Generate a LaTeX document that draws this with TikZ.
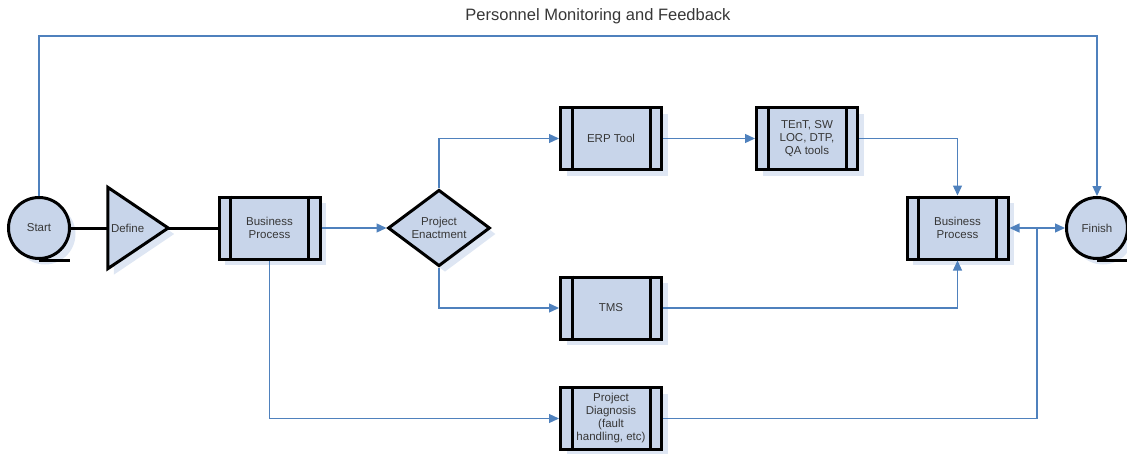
\documentclass[tikz,border=0pt]{standalone}
\usepackage{fontspec}
\setmainfont{Liberation Sans}
\usepackage{tikz}
\usetikzlibrary{shapes.geometric,arrows.meta,shadows}

\definecolor{flowblue}{RGB}{79,129,189}
\definecolor{boxfill}{RGB}{200,213,234}
\definecolor{shadefill}{RGB}{222,230,243}
\definecolor{textgray}{RGB}{55,55,55}

\begin{document}
\begin{tikzpicture}[x=1pt,y=-1pt,
  font=\fontsize{11.5}{13}\selectfont, text=textgray,
  outline/.style={draw=black, line width=3pt, fill=boxfill,
    drop shadow={shadow xshift=6pt, shadow yshift=-6pt, fill=shadefill, opacity=1}},
  procbox/.style={outline, rectangle, minimum width=101pt, minimum height=62pt,
    align=center, inner sep=1pt},
  termnode/.style={outline, circle, minimum size=61pt, inner sep=0pt},
  blackline/.style={draw=black, line width=3pt},
  flow/.style={draw=flowblue, line width=1.3pt, -{Triangle[length=10pt,width=9pt]}},
  flowline/.style={draw=flowblue, line width=1.3pt}]
\useasboundingbox (0,0) rectangle (1127,453);

% title over the feedback loop
\node (title) at (598,16) {\fontsize{16.5}{18}\selectfont Personnel Monitoring and Feedback};

% terminals
\node[termnode] (start) at (39,228) {Start};
\node[termnode] (finish) at (1097,228) {Finish};
\draw[blackline] (start.south) -- ++(31,0);
\draw[blackline] (finish.south) -- ++(31,0);

% define (triangle)
\node[minimum width=60pt, minimum height=81pt, inner sep=0pt] (define) at (138,228) {};
\fill[shadefill] ([shift={(6,6)}]define.north west) -- ([shift={(6,6)}]define.east)
  -- ([shift={(6,6)}]define.south west) -- cycle;
\draw[blackline, fill=boxfill, line join=miter] (define.north west) -- (define.east)
  -- (define.south west) -- cycle;
\node[anchor=west, inner sep=0pt] (definetext) at ([xshift=3pt]define.west) {Define};

% process boxes
\node[procbox] (bpa) at (269.5,228) {Business\\Process};
\node[procbox] (erp) at (611,138.5) {ERP Tool};
\node[procbox] (tent) at (807,138.5) {TEnT, SW\\LOC, DTP,\\QA tools};
\node[procbox] (tms) at (611,308) {TMS};
\node[procbox] (diag) at (611,418.5) {Project\\Diagnosis\\(fault\\handling, etc)};
\node[procbox] (bpb) at (957.5,228) {Business\\Process};
\foreach \n in {bpa,erp,tent,tms,diag,bpb}
  \draw[blackline]
  ([xshift=13pt]\n.north west) -- ([xshift=13pt]\n.south west)
  ([xshift=-13pt]\n.north east) -- ([xshift=-13pt]\n.south east);

% decision
\node[outline, diamond, minimum width=102pt, minimum height=64pt, inner sep=0pt,
  align=center] (enact) at (439,228) {Project\\Enactment};

% black connectors
\draw[blackline] (start.east) -- (define.west);
\draw[blackline] (define.east) -- (bpa.west);

% blue connectors
\draw[flow] (bpa.east) -- (enact.west);
\draw[flow] (enact.north) |- (erp.west);
\draw[flow] (enact.south) |- (tms.west);
\draw[flow] (erp.east) -- (tent.west);
\draw[flow] (tent.east) -| (bpb.north);
\draw[flow] (tms.east) -| (bpb.south);
\draw[flow] (bpa.south) |- (diag.west);
\coordinate (join) at (1037,228);
\draw[flowline] (diag.east) -| (join);
\draw[flow] (join) -- (bpb.east);
\draw[flow] (join) -- (finish.west);
\draw[flow] (start.north) -- ++(0,-160) -| (finish.north);
\end{tikzpicture}
\end{document}
